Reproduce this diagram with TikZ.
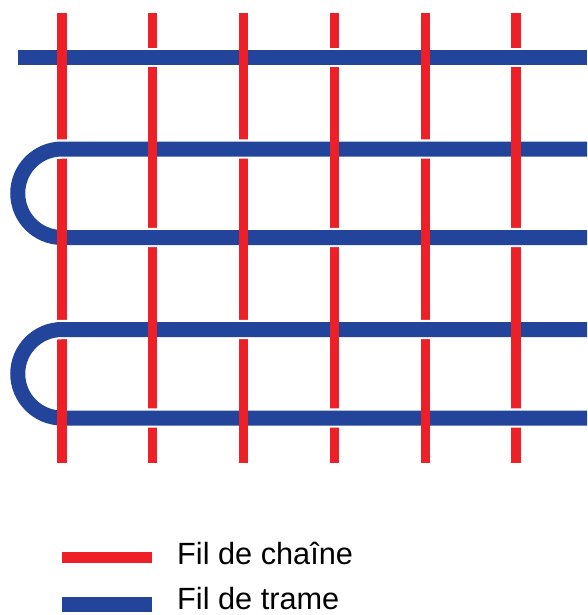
\documentclass[tikz,border=0pt]{standalone}
\usepackage{fontspec}
\setmainfont{Liberation Sans}
\usetikzlibrary{positioning}
\definecolor{chainred}{RGB}{236,32,38}
\definecolor{trameblue}{RGB}{34,68,155}
\tikzset{
  warp/.style={chainred, line width=7.7pt},
  weft/.style={trameblue, line width=12.8pt},
  weftgap/.style={white, line width=16.6pt},
  keytext/.style={anchor=base west, inner sep=0pt, font=\fontsize{26.2}{30}\selectfont},
}

\begin{document}
\begin{tikzpicture}[x=0.03cm, y=-0.03cm]
    \useasboundingbox (0,0) rectangle (587,615);
    % fils de chaine
    \foreach \i in {0,...,5}
      \draw[warp] (62+90.8*\i,13) -- (62+90.8*\i,463);
    % fils de trame
    \draw[weftgap] (17.5,57.5) -- (587,57.5);
    \draw[weft] (17.5,57.5) -- (587,57.5);
    \foreach \y in {149,329.5} {
      \draw[weftgap] (587,\y) -- (62,\y) arc[start angle=90, end angle=270, radius=1.3275cm] -- (587,\y+88.5);
      \draw[weft] (587,\y) -- (62,\y) arc[start angle=90, end angle=270, radius=1.3275cm] -- (587,\y+88.5);
    }
    % chaine dessus
    \foreach \i in {1,...,6}
      \foreach \j in {1,...,5} {
        \pgfmathparse{int(mod(\i+\j,2))}
        \ifnum\pgfmathresult=0
          \draw[warp] (62+90.8*\i-90.8,57.5+90.5*\j-90.5-12) -- (62+90.8*\i-90.8,57.5+90.5*\j-90.5+12);
        \fi
      }
    % legende
    \draw[warp, line width=9.4pt] (62,557) -- (152,557);
    \draw[weft, line width=12pt] (62,604.5) -- (152,604.5);
    \node[keytext] (lchain) at (177,564) {Fil de chaîne};
    \node[keytext] (ltrame) at (177,609) {Fil de trame};
\end{tikzpicture}
\end{document}
